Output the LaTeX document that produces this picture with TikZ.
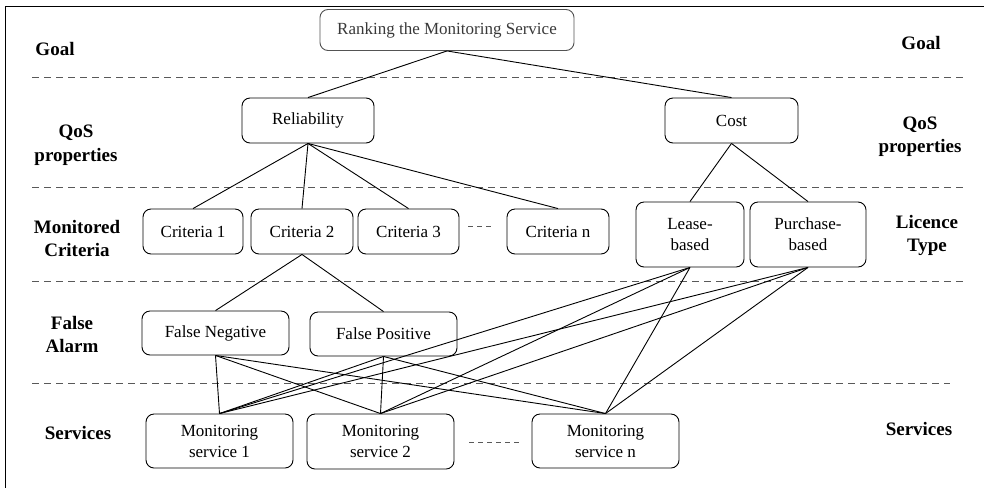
\documentclass[tikz,border=0pt]{standalone}
\usepackage{fontspec}
\setmainfont{Liberation Serif}
\begin{document}
\begin{tikzpicture}[x=1pt,y=-1pt,
  box/.style={draw, line width=0.9pt, rounded corners=8pt, inner sep=0pt, align=center,
    font=\fontsize{17}{21}\selectfont},
  goalbox/.style={box, draw=gray!65!black, text=gray!45!black},
  lab/.style={align=center, font=\fontsize{19}{23.5}\selectfont\bfseries},
  sep/.style={draw=gray!70!black, line width=0.9pt, dash pattern=on 7pt off 5pt},
  link/.style={draw, line width=0.9pt},
  gap/.style={draw=gray!70!black, line width=0.9pt, dash pattern=on 5pt off 4pt}]
\useasboundingbox (0,0) rectangle (984,488);
% frame
\draw[line width=1pt] (984,6) -- (5,6) -- (5,488);
% separators
\draw[sep] (32,77) -- (967,77);
\draw[sep] (32,187) -- (967,187);
\draw[sep] (32,281) -- (967,281);
\draw[sep] (32,383) -- (950,383);
% labels
\node[lab] (lgoal) at (55,49) {Goal};
\node[lab] (lqos) at (76,145) {QoS\\properties};
\node[lab] (lmon) at (77,238.5) {Monitored\\Criteria};
\node[lab] (lfa) at (72,334.5) {False\\Alarm};
\node[lab] (lsv) at (78,433) {Services};
\node[lab] (rgoal) at (921,43) {Goal};
\node[lab] (rqos) at (920,136.5) {QoS\\properties};
\node[lab] (rlic) at (927,235.5) {Licence\\Type};
\node[lab] (rsv) at (919,429) {Services};
% nodes
\node[goalbox, minimum width=254pt, minimum height=41pt] (goal) at (447,30) {Ranking the Monitoring Service};
\node[box, minimum width=132pt, minimum height=45pt] (rel) at (308,120.5) {Reliability};
\node[box, minimum width=133pt, minimum height=45pt] (cost) at (731.5,120.5) {Cost};
\node[box, minimum width=100pt, minimum height=45pt] (c1) at (193,231.5) {Criteria 1};
\node[box, minimum width=102pt, minimum height=45pt] (c2) at (302,231.5) {Criteria 2};
\node[box, minimum width=101pt, minimum height=45pt] (c3) at (408.5,231.5) {Criteria 3};
\node[box, minimum width=102pt, minimum height=45pt] (cn) at (558,231.5) {Criteria n};
\node[box, minimum width=108pt, minimum height=65pt] (lease) at (690,234.5) {Lease-\\based};
\node[box, minimum width=116pt, minimum height=65pt] (purch) at (808,234.5) {Purchase-\\based};
\node[box, minimum width=147pt, minimum height=44pt] (fn) at (215.5,333) {False Negative};
\node[box, minimum width=147pt, minimum height=44pt] (fp) at (383.5,334) {False Positive};
\node[box, minimum width=147pt, minimum height=54pt] (ms1) at (219.5,441) {Monitoring\\service 1};
\node[box, minimum width=147pt, minimum height=55pt] (ms2) at (380.5,441.5) {Monitoring\\service 2};
\node[box, minimum width=147pt, minimum height=54pt] (msn) at (605.5,441) {Monitoring\\service n};
% ellipsis dashes
\coordinate (da) at (468,226);
\coordinate (db) at (494,226);
\coordinate (dc) at (469,442);
\coordinate (dd) at (522,442);
\draw[gap] (da) -- (db);
\draw[gap] (dc) -- (dd);
% connectors
\draw[link] (goal.south) -- (rel.north);
\draw[link] (goal.south) -- (cost.north);
\foreach \t in {c1,c2,c3,cn} \draw[link] (rel.south) -- (\t.north);
\draw[link] (cost.south) -- (lease.north);
\draw[link] (cost.south) -- (purch.north);
\draw[link] (c2.south) -- (fn.north);
\draw[link] (c2.south) -- (fp.north);
\foreach \s in {fn,fp,lease,purch}
  \foreach \t in {ms1,ms2,msn}
    \draw[link] (\s.south) -- (\t.north);
\end{tikzpicture}
\end{document}
